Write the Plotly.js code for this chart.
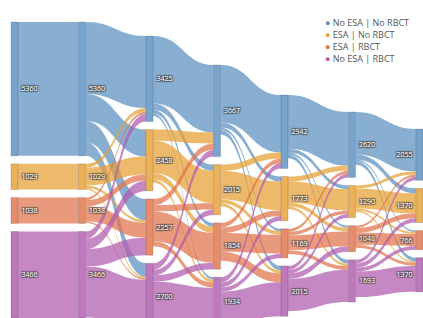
<!DOCTYPE html>
<html><head><meta charset="utf-8">
<script src="https://cdn.plot.ly/plotly-3.0.1.min.js"></script>
<style>html,body{margin:0;padding:0;overflow:hidden;background:#fff}#chart{width:423px;height:318px}</style>
</head><body><div id="chart"></div>
<script>
// Categories (legend order)
const categories = ['No ESA | No RBCT', 'ESA | No RBCT', 'ESA | RBCT', 'No ESA | RBCT'];
const nStages = 7;
// Transition flows between consecutive stages: rows = from category, cols = to category
const flows01 = [
  [5360, 0, 0, 0],
  [0, 1029, 0, 0],
  [0, 0, 1038, 0],
  [0, 0, 0, 3466]];
const flows12 = [
  [2880, 1080, 857, 540],
  [150, 720, 99, 60],
  [100, 250, 601, 60],
  [295, 408, 700, 2040]];
const flows23 = [
  [2700, 250, 150, 100],
  [450, 1300, 250, 120],
  [250, 250, 1200, 200],
  [267, 215, 254, 1514]];
const flows34 = [
  [2300, 200, 100, 180],
  [250, 1150, 150, 120],
  [180, 230, 750, 355],
  [212, 193, 169, 1360]];
const flows45 = [
  [2150, 150, 80, 150],
  [200, 850, 150, 100],
  [120, 140, 600, 150],
  [150, 150, 218, 1293]];
const flows56 = [
  [1700, 200, 60, 150],
  [120, 800, 80, 60],
  [90, 200, 480, 120],
  [145, 170, 146, 1040]];
const transitions = [flows01, flows12, flows23, flows34, flows45, flows56];

// Layout settings (not data): vertical offset of each stage's first node, in px from the plot top
const stageTopPx = [0, 0, 14, 43, 73, 90, 107];
const W = 412, H = 296, PAD = 8, THICK = 7;

// Styling
const baseRGB = [[90, 143, 191], [230, 160, 51], [226, 115, 74], [176, 90, 173]];
const rgba = (c, a) => 'rgba(' + c[0] + ',' + c[1] + ',' + c[2] + ',' + a + ')';

const nCat = categories.length;
const inflow = new Array(nStages * nCat).fill(0);
const outflow = new Array(nStages * nCat).fill(0);
const src = [], tgt = [], val = [], lcol = [];
transitions.forEach((m, s) => {
  m.forEach((row, i) => row.forEach((v, j) => {
    if (v > 0) {
      const a = s * nCat + i, b = (s + 1) * nCat + j;
      src.push(a); tgt.push(b); val.push(v); lcol.push(rgba(baseRGB[i], 0.72));
      outflow[a] += v; inflow[b] += v;
    }
  }));
});
const nodeVal = inflow.map((v, k) => Math.max(v, outflow[k]));
let maxTotal = 0;
for (let s = 0; s < nStages; s++) {
  let t = 0; for (let c = 0; c < nCat; c++) t += nodeVal[s * nCat + c];
  maxTotal = Math.max(maxTotal, t);
}
const ky = (H - (nCat - 1) * PAD) / maxTotal;
const nodeLabels = [], nodeColors = [], nodeX = [], nodeY = [];
for (let s = 0; s < nStages; s++) {
  let y = stageTopPx[s];
  for (let c = 0; c < nCat; c++) {
    const k = s * nCat + c;
    const h = nodeVal[k] * ky;
    nodeLabels.push(String(nodeVal[k]));
    nodeColors.push(rgba(baseRGB[c], 0.82));
    nodeX.push((s * (W - THICK) / (nStages - 1) + THICK / 2) / W);
    nodeY.push((y + h / 2) / H);
    y += h + PAD;
  }
}

const traces = [{
  type: 'sankey',
  orientation: 'h',
  arrangement: 'fixed',
  domain: {x: [0, 1], y: [0, 1]},
  node: {
    pad: PAD, thickness: THICK,
    label: nodeLabels, color: nodeColors, x: nodeX, y: nodeY,
    line: {color: 'rgba(40,40,60,0.18)', width: 1},
    hoverinfo: 'none'
  },
  link: {source: src, target: tgt, value: val, color: lcol, hoverinfo: 'none'},
  textfont: {size: 7, color: '#ffffff', family: 'Open Sans'}
}];

const annotations = categories.map((c, i) => ({
  xref: 'paper', yref: 'paper', x: 0.758, y: 1, xanchor: 'left', yanchor: 'middle',
  yshift: -i * 12, showarrow: false, align: 'left',
  text: '<span style="color:' + rgba(baseRGB[i], 1) + '">●</span> ' + c,
  font: {size: 9, color: '#555', family: 'Open Sans'}
}));

Plotly.newPlot('chart', traces, {
  width: 423, height: 318,
  margin: {l: 11, r: 0, t: 22, b: 0},
  paper_bgcolor: '#fff', plot_bgcolor: '#fff',
  showlegend: false,
  annotations: annotations
}, {staticPlot: true, displayModeBar: false});
</script></body></html>
